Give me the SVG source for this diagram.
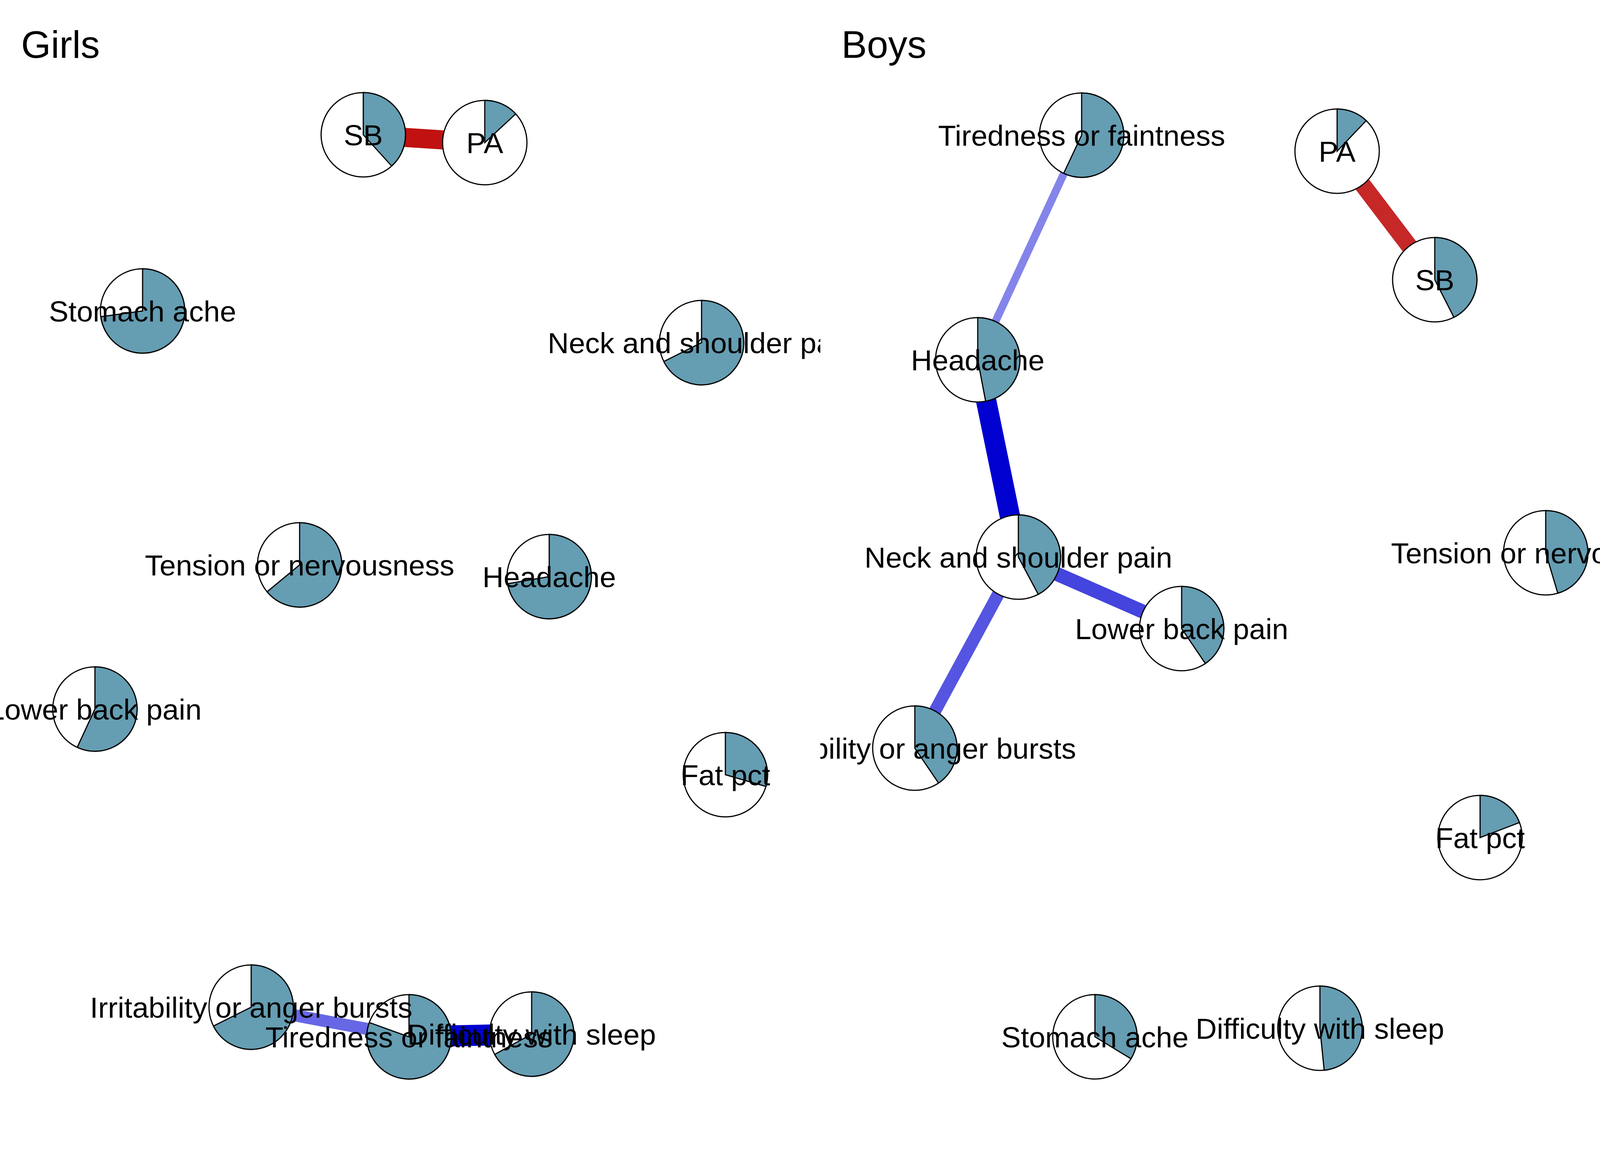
<svg xmlns="http://www.w3.org/2000/svg" width="4200" height="3000" viewBox="0 0 4200 3000">
<style>
  .bg { fill: #ffffff; }
  .disc { fill: #ffffff; stroke: #000000; stroke-width: 3; }
  .wedge { fill: #659DB2; stroke: #000000; stroke-width: 3; stroke-linejoin: miter; }
  .ring { fill: none; stroke: #000000; stroke-width: 3; }
  .lbl { font-family: 'Liberation Sans', Arial, sans-serif; font-size: 75px; fill: #000000; text-anchor: middle; }
  .title { font-family: 'Liberation Sans', Arial, sans-serif; font-size: 98px; fill: #000000; }
  .edge { fill: none; stroke-linecap: butt; }
</style>
<defs>
  <clipPath id="clipGirls"><rect x="0" y="0" width="2100" height="3000"/></clipPath>
  <clipPath id="clipBoys"><rect x="2100" y="0" width="2100" height="3000"/></clipPath>
</defs>
<rect class="bg" x="0" y="0" width="4200" height="3000"/>

<!-- ================= GIRLS ================= -->
<g id="girls" clip-path="url(#clipGirls)">
  <text class="title" x="54" y="148">Girls</text>
  <g id="girls-edges">
    <line class="edge" x1="930" y1="345" x2="1241" y2="365" stroke="#C11111" stroke-width="49"/>
    <line class="edge" x1="643" y1="2578" x2="1047" y2="2654" stroke="#6767E6" stroke-width="31"/>
    <line class="edge" x1="1047" y1="2654" x2="1361" y2="2647" stroke="#0000CD" stroke-width="54"/>
  </g>
  <g id="g-SB">
    <circle class="disc" cx="930" cy="345" r="108"/>
    <path class="wedge" d="M930,345 L930,237 A108,108 0 0 1 1002.7,424.9 Z"/>
  </g>
  <g id="g-PA">
    <circle class="disc" cx="1241" cy="365" r="108"/>
    <path class="wedge" d="M1241,365 L1241,257 A108,108 0 0 1 1320.2,291.5 Z"/>
  </g>
  <g id="g-stomach">
    <circle class="disc" cx="365" cy="796" r="108"/>
    <path class="wedge" d="M365,796 L365,688 A108,108 0 1 1 258.0,810.8 Z"/>
  </g>
  <g id="g-neck">
    <circle class="disc" cx="1796" cy="877" r="108"/>
    <path class="wedge" d="M1796,877 L1796,769 A108,108 0 1 1 1699.4,925.4 Z"/>
  </g>
  <g id="g-tension">
    <circle class="disc" cx="767" cy="1446" r="108"/>
    <path class="wedge" d="M767,1446 L767,1338 A108,108 0 1 1 683.8,1514.8 Z"/>
  </g>
  <g id="g-headache">
    <circle class="disc" cx="1406" cy="1476" r="108"/>
    <path class="wedge" d="M1406,1476 L1406,1368 A108,108 0 1 1 1299.5,1494.2 Z"/>
  </g>
  <g id="g-lowerback">
    <circle class="disc" cx="243" cy="1815" r="108"/>
    <path class="wedge" d="M243,1815 L243,1707 A108,108 0 1 1 197.7,1913.0 Z"/>
  </g>
  <g id="g-fatpct">
    <circle class="disc" cx="1857" cy="1983" r="108"/>
    <path class="wedge" d="M1857,1983 L1857,1875 A108,108 0 0 1 1960.7,2013.1 Z"/>
  </g>
  <g id="g-irritability">
    <circle class="disc" cx="643" cy="2578" r="108"/>
    <path class="wedge" d="M643,2578 L643,2470 A108,108 0 1 1 546.4,2626.4 Z"/>
  </g>
  <g id="g-tiredness">
    <circle class="disc" cx="1047" cy="2654" r="108"/>
    <path class="wedge" d="M1047,2654 L1047,2546 A108,108 0 1 1 945.4,2617.4 Z"/>
  </g>
  <g id="g-sleep">
    <circle class="disc" cx="1361" cy="2647" r="108"/>
    <path class="wedge" d="M1361,2647 L1361,2539 A108,108 0 1 1 1266.4,2699.0 Z"/>
  </g>
  <g id="girls-labels">
    <text class="lbl" x="930" y="372">SB</text>
    <text class="lbl" x="1241" y="392">PA</text>
    <text class="lbl" x="365" y="823">Stomach ache</text>
    <text class="lbl" x="1796" y="904">Neck and shoulder pain</text>
    <text class="lbl" x="767" y="1473">Tension or nervousness</text>
    <text class="lbl" x="1406" y="1503">Headache</text>
    <text class="lbl" x="243" y="1842">Lower back pain</text>
    <text class="lbl" x="1857" y="2010">Fat pct</text>
    <text class="lbl" x="643" y="2605">Irritability or anger bursts</text>
    <text class="lbl" x="1047" y="2681">Tiredness or faintness</text>
    <text class="lbl" x="1361" y="2674">Difficulty with sleep</text>
  </g>
</g>

<!-- ================= BOYS ================= -->
<g id="boys" clip-path="url(#clipBoys)">
  <text class="title" x="2154" y="148">Boys</text>
  <g id="boys-edges">
    <line class="edge" x1="2769" y1="346" x2="2503" y2="921" stroke="#8484EA" stroke-width="20"/>
    <line class="edge" x1="2503" y1="921" x2="2607" y2="1426" stroke="#0000D0" stroke-width="52"/>
    <line class="edge" x1="2607" y1="1426" x2="3025" y2="1609" stroke="#4444DE" stroke-width="36"/>
    <line class="edge" x1="2607" y1="1426" x2="2342" y2="1915" stroke="#5555E2" stroke-width="32"/>
    <line class="edge" x1="3423" y1="387" x2="3673" y2="716" stroke="#C62828" stroke-width="43"/>
  </g>
  <g id="b-tiredness">
    <circle class="disc" cx="2769" cy="346" r="108"/>
    <path class="wedge" d="M2769,346 L2769,238 A108,108 0 1 1 2723.0,443.7 Z"/>
  </g>
  <g id="b-PA">
    <circle class="disc" cx="3423" cy="387" r="108"/>
    <path class="wedge" d="M3423,387 L3423,279 A108,108 0 0 1 3497.4,308.7 Z"/>
  </g>
  <g id="b-SB">
    <circle class="disc" cx="3673" cy="716" r="108"/>
    <path class="wedge" d="M3673,716 L3673,608 A108,108 0 0 1 3722.0,812.2 Z"/>
  </g>
  <g id="b-headache">
    <circle class="disc" cx="2503" cy="921" r="108"/>
    <path class="wedge" d="M2503,921 L2503,813 A108,108 0 0 1 2523.2,1027.1 Z"/>
  </g>
  <g id="b-neck">
    <circle class="disc" cx="2607" cy="1426" r="108"/>
    <path class="wedge" d="M2607,1426 L2607,1318 A108,108 0 0 1 2657.9,1521.3 Z"/>
  </g>
  <g id="b-tension">
    <circle class="disc" cx="3957" cy="1415" r="108"/>
    <path class="wedge" d="M3957,1415 L3957,1307 A108,108 0 0 1 3987.9,1518.5 Z"/>
  </g>
  <g id="b-lowerback">
    <circle class="disc" cx="3025" cy="1609" r="108"/>
    <path class="wedge" d="M3025,1609 L3025,1501 A108,108 0 0 1 3085.7,1698.3 Z"/>
  </g>
  <g id="b-irritability">
    <circle class="disc" cx="2342" cy="1915" r="108"/>
    <path class="wedge" d="M2342,1915 L2342,1807 A108,108 0 0 1 2402.7,2004.3 Z"/>
  </g>
  <g id="b-fatpct">
    <circle class="disc" cx="3789" cy="2144" r="108"/>
    <path class="wedge" d="M3789,2144 L3789,2036 A108,108 0 0 1 3889.9,2105.5 Z"/>
  </g>
  <g id="b-stomach">
    <circle class="disc" cx="2803" cy="2654" r="108"/>
    <path class="wedge" d="M2803,2654 L2803,2546 A108,108 0 0 1 2895.3,2710.1 Z"/>
  </g>
  <g id="b-sleep">
    <circle class="disc" cx="3379" cy="2632" r="108"/>
    <path class="wedge" d="M3379,2632 L3379,2524 A108,108 0 0 1 3389.9,2739.5 Z"/>
  </g>
  <g id="boys-labels">
    <text class="lbl" x="2769" y="373">Tiredness or faintness</text>
    <text class="lbl" x="3423" y="414">PA</text>
    <text class="lbl" x="3673" y="743">SB</text>
    <text class="lbl" x="2503" y="948">Headache</text>
    <text class="lbl" x="2607" y="1453">Neck and shoulder pain</text>
    <text class="lbl" x="3957" y="1442">Tension or nervousness</text>
    <text class="lbl" x="3025" y="1636">Lower back pain</text>
    <text class="lbl" x="2342" y="1942">Irritability or anger bursts</text>
    <text class="lbl" x="3789" y="2171">Fat pct</text>
    <text class="lbl" x="2803" y="2681">Stomach ache</text>
    <text class="lbl" x="3379" y="2659">Difficulty with sleep</text>
  </g>
</g>
</svg>
